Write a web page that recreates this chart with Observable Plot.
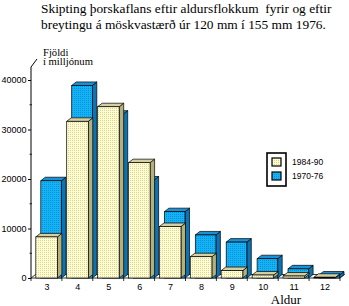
<!DOCTYPE html>
<html><head><meta charset="utf-8">
<script src="https://cdn.jsdelivr.net/npm/d3@7"></script>
<script src="https://cdn.jsdelivr.net/npm/@observablehq/plot@0.6"></script>
<style>
body{margin:0;background:#fff;width:349px;height:306px;overflow:hidden}
#title{position:relative;height:36px;font-family:"Liberation Serif",serif;font-size:13px;line-height:16px;color:#000;}
#title div{position:absolute;left:41px;white-space:nowrap;transform-origin:0 0;transform:scaleX(1.03)}
#chart svg{display:block}
</style></head><body>
<div id="title"><div style="top:1px">Skipting þorskaflans eftir aldursflokkum&nbsp; fyrir og eftir</div><div style="top:17px">breytingu á möskvastærð úr 120 mm í 155 mm 1976.</div></div>
<div id="chart"></div>
<script>
const ages = [3, 4, 5, 6, 7, 8, 9, 10, 11, 12];
const series = ["1984-90", "1970-76"];
const catch1984 = [8300, 31650, 34600, 23300, 10400, 4300, 1500, 600, 400, 150];
const catch1970 = [19650, 38900, 33100, 19800, 13400, 8700, 7250, 3900, 1850, 600];
const yTicks = [0, 10000, 20000, 30000, 40000];
const yMinor = [5000, 15000, 25000, 35000];
const yTitle = ["Fjöldi", "í milljónum"];
const xTitle = "Aldur";

const data = ages.flatMap((a, i) => [
  {age: a, series: series[0], value: catch1984[i]},
  {age: a, series: series[1], value: catch1970[i]}
]);

const look = {
  "1984-90": {front: "#fffcd0", dot: "#d9d49c", top: "#d4d0a2", side: "#b4b07c", pat: "patBeige", off: [4.8, 26.4]},
  "1970-76": {front: "#14b4f4", dot: "#0a8ee0", top: "#1a92d8", side: "#0a74b4", pat: "patBlue", off: [9.8, 30.4]}
};
const DX = 4.5, DY = 3.5;
const serif = "font-family:'Liberation Serif',serif";

function scene(index, scales, values, dims) {
  const {x, y} = scales;
  const g = d3.create("svg:g").attr("text-anchor", "start");
  const defs = g.append("defs");
  for (const s of series) {
    const L = look[s];
    const p = defs.append("pattern").attr("id", L.pat).attr("width", 2).attr("height", 2).attr("patternUnits", "userSpaceOnUse");
    p.append("rect").attr("width", 2).attr("height", 2).attr("fill", L.front);
    p.append("rect").attr("width", 1).attr("height", 1).attr("fill", L.dot);
  }
  const y0 = y(0);
  const xl = x(ages[0] - 0.5), xr = x(ages[ages.length - 1] + 0.5);
  const yTop = y(y.domain()[1]);
  // floor
  g.append("path").attr("d", `M${xl},${y0}L${xr},${y0}L${xr + DX},${y0 - DY}L${xl + DX},${y0 - DY}Z`)
    .attr("fill", "#fff").attr("stroke", "#000").attr("stroke-width", 0.8);
  // y axis line with 3D top
  g.append("path").attr("d", `M${xl},${y0}V${yTop}L${xl + 6},${yTop - 8}`).attr("fill", "none").attr("stroke", "#000").attr("stroke-width", 1);
  // minor y ticks
  for (const v of yMinor) g.append("line").attr("x1", xl - 1.5).attr("x2", xl + 1).attr("y1", y(v)).attr("y2", y(v)).attr("stroke", "#000").attr("stroke-width", 0.8);
  // x boundary ticks
  for (let i = 0; i <= ages.length; i++) {
    const bx = x(ages[0] - 0.5 + i);
    g.append("line").attr("x1", bx).attr("x2", bx).attr("y1", y0).attr("y2", y0 + 3).attr("stroke", "#000").attr("stroke-width", 0.8);
  }
  const drawBar = (d) => {
    const L = look[d.series];
    const band = x(d.age - 0.5);
    const x0 = band + L.off[0], x1 = band + L.off[1];
    const yt = y(d.value);
    const sw = 0.7;
    g.append("path").attr("d", `M${x1},${yt}L${x1 + DX},${yt - DY}L${x1 + DX},${y0 - DY}L${x1},${y0}Z`)
      .attr("fill", L.side).attr("stroke", "#000").attr("stroke-width", sw);
    g.append("path").attr("d", `M${x0},${yt}L${x0 + DX},${yt - DY}L${x1 + DX},${yt - DY}L${x1},${yt}Z`)
      .attr("fill", L.top).attr("stroke", "#000").attr("stroke-width", sw);
    g.append("rect").attr("x", x0).attr("y", yt).attr("width", x1 - x0).attr("height", Math.max(0, y0 - yt))
      .attr("fill", `url(#${L.pat})`).attr("stroke", "#000").attr("stroke-width", sw);
  };
  data.filter(d => d.series === series[1]).forEach(drawBar);
  data.filter(d => d.series === series[0]).forEach(drawBar);
  // titles
  const t = g.append("g").attr("fill", "#000");
  const sx = "translate(43,0) scale(1.12,1) translate(-43,0)";
  t.append("text").attr("x", 43).attr("y", 20).attr("style", serif + ";font-size:9.5px").attr("text-anchor", "start").attr("transform", sx).text(yTitle[0]);
  t.append("text").attr("x", 43).attr("y", 29).attr("style", serif + ";font-size:9.5px").attr("text-anchor", "start").attr("transform", sx).text(yTitle[1]);
  t.append("text").attr("x", 286).attr("y", 268).attr("style", serif + ";font-size:13px").attr("text-anchor", "middle").text(xTitle);
  // legend
  const lg = g.append("g");
  lg.append("rect").attr("x", 267).attr("y", 117).attr("width", 19).attr("height", 33).attr("fill", "#fff").attr("stroke", "#000").attr("stroke-width", 1.6);
  series.forEach((s, i) => {
    const L = look[s];
    const sy = 122 + i * 14;
    lg.append("rect").attr("x", 272).attr("y", sy).attr("width", 9).attr("height", 8).attr("fill", `url(#${L.pat})`).attr("stroke", "#000").attr("stroke-width", 1.2);
    lg.append("text").attr("x", 292).attr("y", sy + 4).attr("dy", "0.35em").attr("text-anchor", "start").attr("style", "font-family:'Liberation Sans',Arial,sans-serif;font-size:8.5px").text(s);
  });
  return g.node();
}

const plot = Plot.plot({
  width: 349,
  height: 270,
  marginLeft: 31,
  marginRight: 9,
  marginTop: 31,
  marginBottom: 28,
  style: {fontFamily: "Liberation Sans, Arial, sans-serif", fontSize: "9px", background: "#fff", color: "#000"},
  x: {type: "linear", domain: [2.5, 12.5], axis: null},
  y: {domain: [0, 40000 * 211 / 198], ticks: yTicks, tickSize: 3, tickPadding: 2, tickFormat: d => String(d), label: null, line: false},
  marks: [
    scene,
    Plot.text(ages, {x: d => d, y: 0, text: d => String(d), dy: 9, fontSize: 9})
  ]
});
document.getElementById("chart").appendChild(plot);
</script>
</body></html>
